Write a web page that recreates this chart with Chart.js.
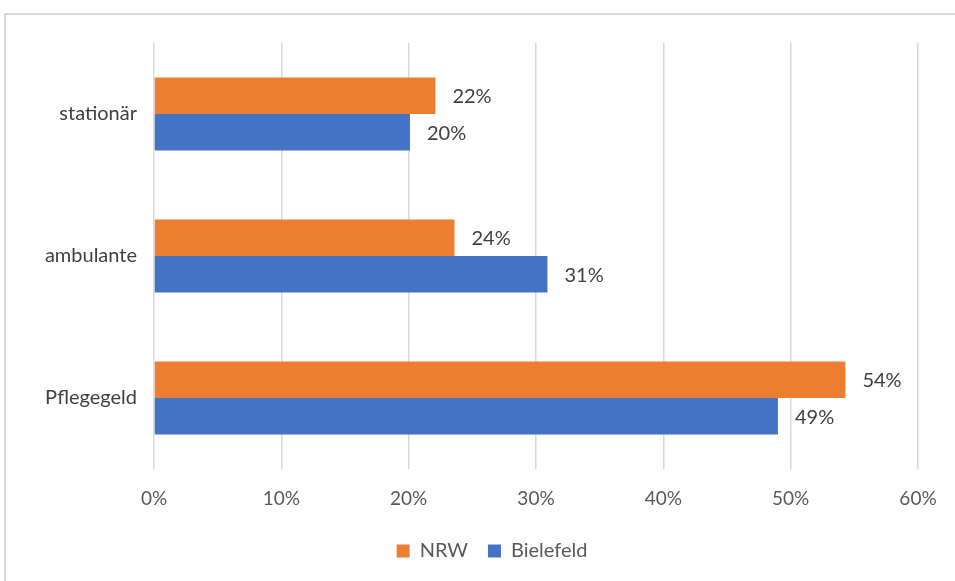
<!DOCTYPE html>
<html>
<head>
<meta charset="utf-8">
<script src="https://cdn.jsdelivr.net/npm/chart.js@4"></script>
<style>
  html, body { margin: 0; padding: 0; background: #fff; }
  #wrap { width: 955px; height: 581px; position: relative; }
</style>
</head>
<body>
<div id="wrap"><canvas id="chart" width="955" height="581"></canvas></div>
<script>
// Leistungsarten, Anteil in Prozent
const categories = ['stationär', 'ambulante', 'Pflegegeld'];
const nrw = [22.1, 23.6, 54.3];
const bielefeld = [20.1, 30.9, 49.0];
const xTicks = [0, 10, 20, 30, 40, 50, 60];

const FONT = 'Lato, "Open Sans", sans-serif';

// light frame around the chart (left + top edge visible)
const frame = {
  id: 'frame',
  beforeDraw(chart) {
    const c = chart.ctx;
    c.save();
    c.strokeStyle = '#d9d9d9';
    c.lineWidth = 2;
    c.beginPath();
    c.moveTo(5, chart.height);
    c.lineTo(5, 14);
    c.lineTo(chart.width, 14);
    c.stroke();
    c.restore();
  }
};

// legend sits a bit right of the plot centre
const legendShift = {
  id: 'legendShift',
  afterLayout(chart) {
    chart.legend.left += 23;
    chart.legend.right += 23;
  }
};

// value labels to the right of each bar
const barLabels = {
  id: 'barLabels',
  afterDatasetsDraw(chart) {
    const c = chart.ctx;
    c.save();
    c.font = '20px ' + FONT;
    c.fillStyle = '#404040';
    c.textBaseline = 'middle';
    c.textAlign = 'left';
    chart.data.datasets.forEach((ds, i) => {
      chart.getDatasetMeta(i).data.forEach((bar, j) => {
        c.fillText(Math.round(ds.data[j]) + '%', bar.x + 17, bar.y + 1);
      });
    });
    c.restore();
  }
};

new Chart(document.getElementById('chart'), {
  type: 'bar',
  data: {
    labels: categories,
    datasets: [
      { label: 'NRW', data: nrw, backgroundColor: '#ED7D31' },
      { label: 'Bielefeld', data: bielefeld, backgroundColor: '#4472C4' }
    ]
  },
  options: {
    indexAxis: 'y',
    responsive: false,
    animation: false,
    barPercentage: 1,
    categoryPercentage: 0.515,
    layout: { padding: { top: 43, right: 37, bottom: 10, left: 20 } },
    scales: {
      x: {
        min: 0,
        max: 60,
        afterBuildTicks(s) { s.ticks = xTicks.map(v => ({ value: v })); },
        afterFit(s) { s.height = 52; },
        border: { display: false },
        grid: { color: '#d9d9d9', lineWidth: 1.5, drawTicks: false },
        ticks: {
          padding: 18,
          color: '#595959',
          font: { family: FONT, size: 19 },
          callback: v => v + '%'
        }
      },
      y: {
        afterFit(s) { s.width = 134; },
        border: { display: false },
        grid: { display: false, drawTicks: false },
        ticks: {
          padding: 17,
          color: '#404040',
          font: { family: FONT, size: 20 }
        }
      }
    },
    plugins: {
      legend: {
        position: 'bottom',
        labels: {
          boxWidth: 13,
          boxHeight: 13,
          padding: 20,
          color: '#595959',
          font: { family: FONT, size: 20 }
        }
      },
      tooltip: { enabled: false }
    }
  },
  plugins: [frame, legendShift, barLabels]
});
</script>
</body>
</html>
